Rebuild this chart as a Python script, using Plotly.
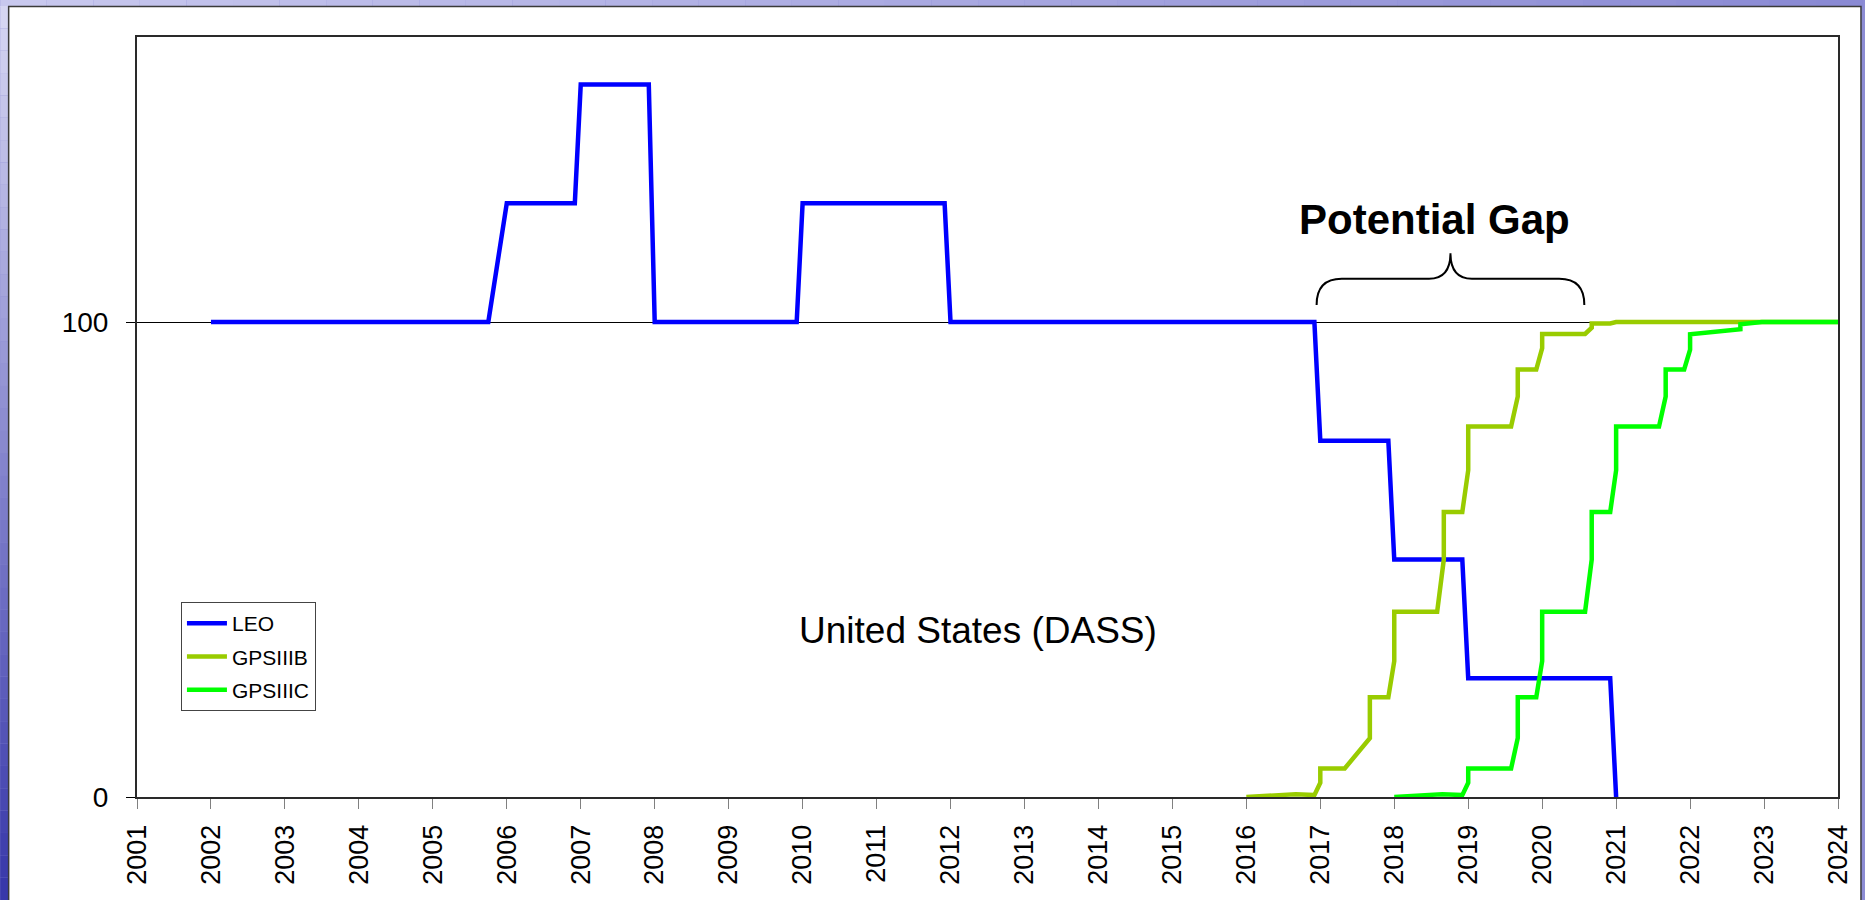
import plotly.graph_objects as go
import numpy as np

# ---------------- data ----------------
leo_x = [2002.0, 2005.75, 2006.0, 2006.92, 2007.0, 2007.92, 2008.0, 2009.92, 2010.0,
         2011.92, 2012.0, 2016.92, 2017.0, 2017.92, 2018.0, 2018.92, 2019.0, 2020.92, 2021.0]
leo_y = [100, 100, 125, 125, 150, 150, 100, 100, 125,
         125, 100, 100, 75, 75, 50, 50, 25, 25, 0]

gps3b_x = [2016.0, 2016.67, 2016.92, 2017.0, 2017.0, 2017.33, 2017.67, 2017.67, 2017.92,
           2018.0, 2018.0, 2018.58, 2018.67, 2018.67, 2018.92, 2019.0, 2019.0, 2019.58,
           2019.67, 2019.67, 2019.92, 2020.0, 2020.0, 2020.58, 2020.67, 2020.67, 2020.92,
           2021.0, 2024.0]
gps3b_y = [0, 0.6, 0.4, 3, 6, 6, 12.4, 21, 21,
           28.6, 39, 39, 50, 60, 60, 68.8, 78, 78,
           84.3, 90, 90, 94.5, 97.5, 97.5, 98.8, 99.7, 99.7,
           100, 100]

gps3c_x = [2018.0, 2018.65, 2018.92, 2019.0, 2019.0, 2019.58, 2019.67, 2019.67, 2019.92,
           2020.0, 2020.0, 2020.58, 2020.67, 2020.67, 2020.92, 2021.0, 2021.0, 2021.58,
           2021.67, 2021.67, 2021.92, 2022.0, 2022.0, 2022.68, 2022.68, 2022.97, 2024.0]
gps3c_y = [0, 0.6, 0.4, 3, 6, 6, 12.4, 21, 21,
           28.6, 39, 39, 50, 60, 60, 68.8, 78, 78,
           84.3, 90, 90, 94.2, 97.4, 98.5, 99.5, 100, 100]

x_ticks = list(range(2001, 2025))
y_ticks = [0, 100]

# potential gap span (years) and brace heights (y units)
gap_start, gap_end = 2016.95, 2020.57
brace_low, brace_mid, brace_top = 103.6, 109.1, 114.5

# ---------------- layout geometry ----------------
W, H = 1865, 900
ML, MR, MT, MB = 137, 25, 37, 103
PW, PH = W - ML - MR, H - MT - MB

def px(xp):
    return (xp - ML) / PW

def py(yp):
    return (H - MB - yp) / PH

FONT = "Liberation Sans, Arial, sans-serif"

fig = go.Figure()
fig.add_trace(go.Scatter(x=leo_x, y=leo_y, mode="lines", name="LEO", legendgroup="a",
                         line=dict(color="#0000FF", width=4.5)))
fig.add_trace(go.Scatter(x=gps3b_x, y=gps3b_y, mode="lines", name="GPSIIIB", legendgroup="b",
                         line=dict(color="#99CC00", width=4.5)))
fig.add_trace(go.Scatter(x=gps3c_x, y=gps3c_y, mode="lines", name="GPSIIIC", legendgroup="c",
                         line=dict(color="#00FF00", width=4.5)))

shapes = []
# slide background gradient strips (decorative)
n = 40
top_cols = [(int(a), int(b), int(c)) for a, b, c in zip(np.linspace(200, 138, n), np.linspace(200, 138, n), np.linspace(238, 212, n))]
for i in range(n):
    x0 = i * W / n
    x1 = (i + 1) * W / n
    shapes.append(dict(type="rect", xref="paper", yref="paper", layer="below",
                       x0=px(x0), x1=px(x1), y0=py(0), y1=py(7),
                       fillcolor="rgb(%d,%d,%d)" % top_cols[i], line=dict(width=0)))
left_cols = [(int(a), int(b), int(c)) for a, b, c in zip(np.linspace(214, 56, n), np.linspace(214, 56, n), np.linspace(242, 170, n))]
for i in range(n):
    y0 = 6 + i * (H - 6) / n
    y1 = 6 + (i + 1) * (H - 6) / n
    shapes.append(dict(type="rect", xref="paper", yref="paper", layer="below",
                       x0=px(0), x1=px(9), y0=py(y0), y1=py(y1),
                       fillcolor="rgb(%d,%d,%d)" % left_cols[i], line=dict(width=0)))
# white chart frame
shapes.append(dict(type="rect", xref="paper", yref="paper", layer="below",
                   x0=px(8.5), x1=px(1863), y0=py(6.5), y1=py(910),
                   fillcolor="white", line=dict(color="#3a3a3a", width=1.5)))

# brace over the potential gap
xc = (gap_start + gap_end) / 2
dx = 0.34
dx2 = 0.29
brace = (f"M {gap_start},{brace_low} Q {gap_start},{brace_mid} {gap_start+dx},{brace_mid} "
         f"L {xc-dx2},{brace_mid} Q {xc},{brace_mid} {xc},{brace_top} "
         f"Q {xc},{brace_mid} {xc+dx2},{brace_mid} "
         f"L {gap_end-dx},{brace_mid} Q {gap_end},{brace_mid} {gap_end},{brace_low}")
shapes.append(dict(type="path", xref="x", yref="y", path=brace, layer="above",
                   line=dict(color="black", width=2)))

fig.update_layout(
    width=W, height=H,
    margin=dict(l=ML, r=MR, t=MT, b=MB, pad=0),
    paper_bgcolor="#8c8cd4",
    plot_bgcolor="white",
    font=dict(family=FONT, color="black"),
    shapes=shapes,
    showlegend=True,
    legend=dict(x=px(181), y=py(602), xanchor="left", yanchor="top",
                bgcolor="white", bordercolor="#444444", borderwidth=1,
                font=dict(family=FONT, size=21, color="black"),
                tracegroupgap=3, itemwidth=40),
    annotations=[
        dict(x=2018.54, y=121.5, xref="x", yref="y", text="<b>Potential Gap</b>",
             showarrow=False, font=dict(family=FONT, size=42, color="black"),
             xanchor="center", yanchor="middle"),
        dict(x=2012.37, y=35.1, xref="x", yref="y", text="United States (DASS)",
             showarrow=False,
             font=dict(family=FONT, size=37, color="black"),
             xanchor="center", yanchor="middle"),
    ],
)

fig.update_xaxes(range=[2001, 2024], tickvals=x_ticks, ticktext=[str(t) for t in x_ticks],
                 tickangle=-90, ticks="outside", ticklen=10, tickcolor="#808080", tickwidth=1,
                 ticklabelstandoff=5,
                 tickfont=dict(family=FONT, size=27, color="black"),
                 showline=True, linecolor="#2a2a2a", linewidth=2, mirror=True,
                 showgrid=False, zeroline=False)
fig.update_yaxes(range=[0, 160], tickvals=y_ticks, ticktext=[str(t) for t in y_ticks],
                 ticks="outside", ticklen=9, tickcolor="black", tickwidth=1,
                 ticklabelstandoff=12,
                 tickfont=dict(family=FONT, size=28, color="black"),
                 showline=True, linecolor="#2a2a2a", linewidth=2, mirror=True,
                 showgrid=True, gridcolor="black", gridwidth=1, zeroline=False)

fig.write_html("out.html", config={"displayModeBar": False},
               post_script="document.body.style.margin='0';document.body.style.overflow='hidden';")
